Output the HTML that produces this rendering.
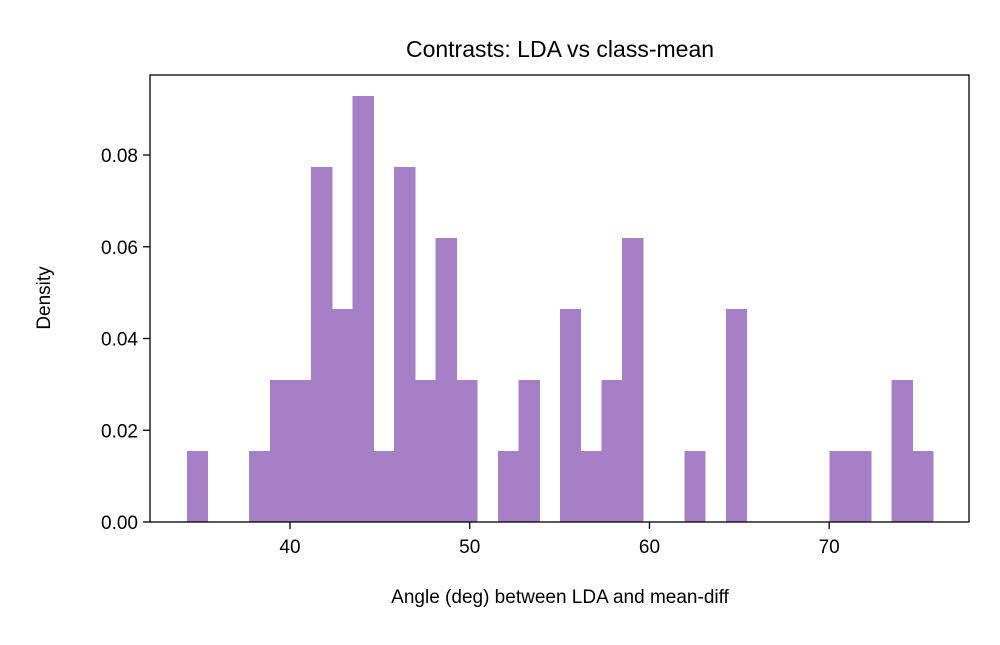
<!DOCTYPE html>
<html><head><meta charset="utf-8"><style>
body{margin:0;background:#fff;}
svg text{font-family:"Liberation Sans","DejaVu Sans",sans-serif;fill:#000;}
</style></head><body>
<svg id="chart" width="1000" height="640" viewBox="0 0 1000 640">
<rect width="1000" height="640" fill="#fff"/>
<text x="560" y="57" font-size="23" text-anchor="middle">Contrasts: LDA vs class-mean</text>
<g id="bars" shape-rendering="crispEdges"></g>
<g id="axes"></g>
<text x="560" y="603" font-size="19" text-anchor="middle">Angle (deg) between LDA and mean-diff</text>
<text transform="translate(50,298) rotate(-90)" font-size="19" text-anchor="middle">Density</text>
</svg>
<script>
const binStart = 34.26;
const binWidth = 1.1535;
const counts = [1,0,0,1,2,2,5,3,6,1,5,2,4,2,0,1,2,0,3,1,2,4,0,0,1,0,3,0,0,0,0,1,1,0,2,1];
const xTicks = [40,50,60,70];
const yTicks = [0,0.02,0.04,0.06,0.08];
const yTickLabels = ["0.00","0.02","0.04","0.06","0.08"];

const L=150,R=969,T=75,B=522;
const xMin=32.21,xMax=77.78,yMax=0.09744;
const xs=v=>L+(v-xMin)/(xMax-xMin)*(R-L);
const ys=v=>B-v/yMax*(B-T);
const NS="http://www.w3.org/2000/svg";
const total=counts.reduce((a,b)=>a+b,0);
const bars=document.getElementById('bars');
counts.forEach((c,i)=>{
  if(!c) return;
  const d=c/(total*binWidth);
  const x0=xs(binStart+i*binWidth), x1=xs(binStart+(i+1)*binWidth);
  const r=document.createElementNS(NS,'rect');
  r.setAttribute('x',x0);r.setAttribute('width',x1-x0+0.5);
  r.setAttribute('y',ys(d));r.setAttribute('height',B-ys(d));
  r.setAttribute('fill','#a580c6');
  
  
  bars.appendChild(r);
});
const ax=document.getElementById('axes');
const frame=document.createElementNS(NS,'rect');
frame.setAttribute('x',L);frame.setAttribute('y',T);frame.setAttribute('width',R-L);frame.setAttribute('height',B-T);
frame.setAttribute('fill','none');frame.setAttribute('stroke','#000');frame.setAttribute('stroke-width','1.3');


ax.appendChild(frame);
xTicks.forEach(v=>{
  const x=xs(v);
  const l=document.createElementNS(NS,'line');
  l.setAttribute('x1',x);l.setAttribute('x2',x);l.setAttribute('y1',B);l.setAttribute('y2',B+7);l.setAttribute('stroke','#000');l.setAttribute('stroke-width','1.3');
  
  
  ax.appendChild(l);
  const t=document.createElementNS(NS,'text');
  t.setAttribute('x',x);t.setAttribute('y',B+31);t.setAttribute('font-size','19');t.setAttribute('text-anchor','middle');
  t.textContent=v;
  
  
  ax.appendChild(t);
});
yTicks.forEach((v,i)=>{
  const y=ys(v);
  const l=document.createElementNS(NS,'line');
  l.setAttribute('x1',L-7);l.setAttribute('x2',L);l.setAttribute('y1',y);l.setAttribute('y2',y);l.setAttribute('stroke','#000');l.setAttribute('stroke-width','1.3');
  
  
  ax.appendChild(l);
  const t=document.createElementNS(NS,'text');
  t.setAttribute('x',L-12);t.setAttribute('y',y+7);t.setAttribute('font-size','19');t.setAttribute('text-anchor','end');
  t.textContent=yTickLabels[i];
  
  
  ax.appendChild(t);
});
</script>
</body></html>
